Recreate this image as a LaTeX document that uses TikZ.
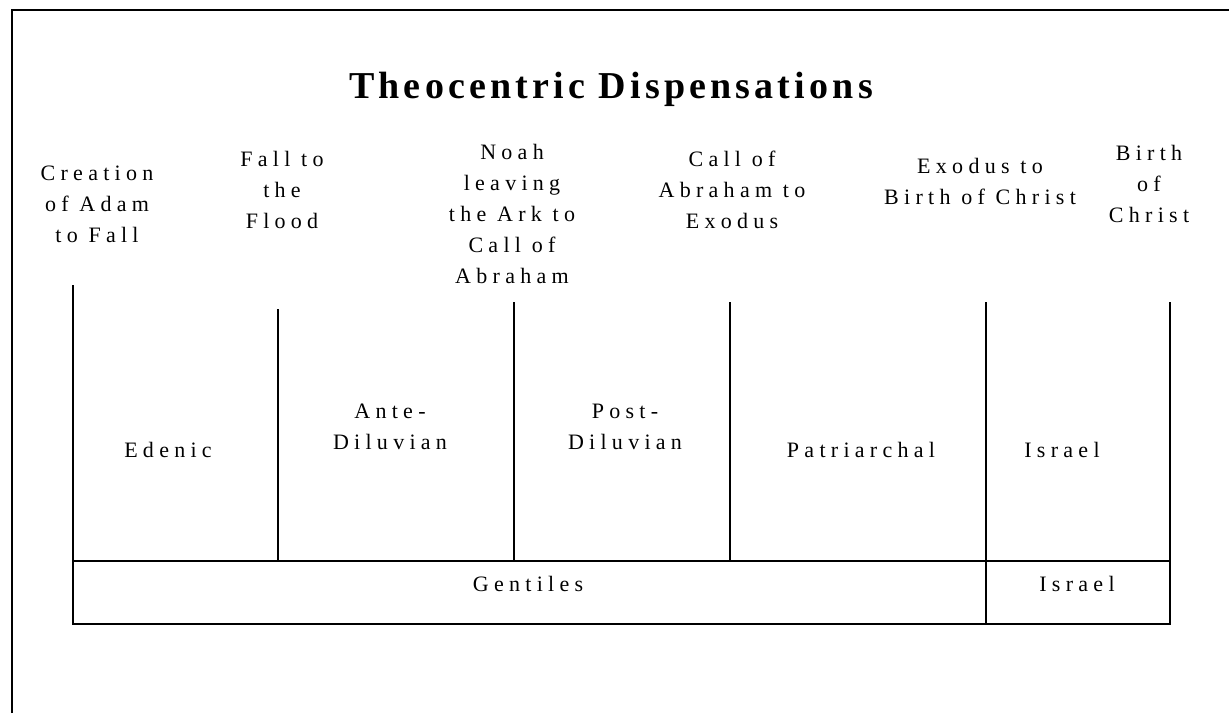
\documentclass[tikz,border=0pt]{standalone}
\usepackage{fontspec}
\setmainfont{Liberation Serif}
\newfontfamily\spacedfont{Liberation Serif}[LetterSpace=24]
\newfontfamily\titlefont{Liberation Serif}[LetterSpace=11]

\begin{document}
\begin{tikzpicture}[x=0.5pt, y=-0.5pt,
		period/.style={align=center, anchor=base, inner sep=0pt, font=\spacedfont\fontsize{11}{15.5}\selectfont},
		rule/.style={line width=0.6pt}]
				\useasboundingbox (0,0) rectangle (1229,713);
				% frame
				\draw[line width=1.4pt] (12,713) -- (12,10) -- (1229,10);
				\node[anchor=base, inner sep=0pt, font=\titlefont\bfseries\fontsize{19}{23}\selectfont] (title) at (611,98) {Theocentric Dispensations};
				% headings, placed at the baseline of their last line
				\node[period] (creation) at (97,242) {Creation\\of Adam\\to Fall};
				\node[period] (fall) at (282,228) {Fall to\\the\\Flood};
				\node[period] (noah) at (512,283) {Noah\\leaving\\the Ark to\\Call of\\Abraham};
				\node[period] (call) at (732,228) {Call of\\Abraham to\\Exodus};
				\node[period] (exodus) at (980,204) {Exodus to\\Birth of Christ};
				\node[period] (birth) at (1149,222) {Birth\\of\\Christ};
				% table
				\node[shape=coordinate] (a0) at (73,285) {};
				\node[shape=coordinate] (a1) at (278,309) {};
				\node[shape=coordinate] (a2) at (514,302) {};
				\node[shape=coordinate] (a3) at (730,302) {};
				\node[shape=coordinate] (a4) at (986,302) {};
				\node[shape=coordinate] (a5) at (1170,302) {};
				\node[shape=coordinate] (m0) at (73,561) {};
				\node[shape=coordinate] (m1) at (278,561) {};
				\node[shape=coordinate] (m2) at (514,561) {};
				\node[shape=coordinate] (m3) at (730,561) {};
				\node[shape=coordinate] (m5) at (1170,561) {};
				\node[shape=coordinate] (b0) at (73,624) {};
				\node[shape=coordinate] (b4) at (986,624) {};
				\node[shape=coordinate] (b5) at (1170,624) {};
				\begin{scope}[rule]
					\draw (a0) -- (b0) -- (b5) -- (a5);
					\draw (m0) -- (m5);
					\draw (a1) -- (m1);
					\draw (a2) -- (m2);
					\draw (a3) -- (m3);
					\draw (a4) -- (b4);
				\end{scope}
				\node[period] (edenic) at (168,457) {Edenic};
				\node[period] (ante) at (390,449) {Ante-\\Diluvian};
				\node[period] (post) at (625,449) {Post-\\Diluvian};
				\node[period] (patriarchal) at (861,457) {Patriarchal};
				\node[period] (israel) at (1062,457) {Israel};
				\node[period] (gentiles) at (528,591) {Gentiles};
				\node[period] (israel2) at (1077,591) {Israel};
			\end{tikzpicture}
\end{document}
